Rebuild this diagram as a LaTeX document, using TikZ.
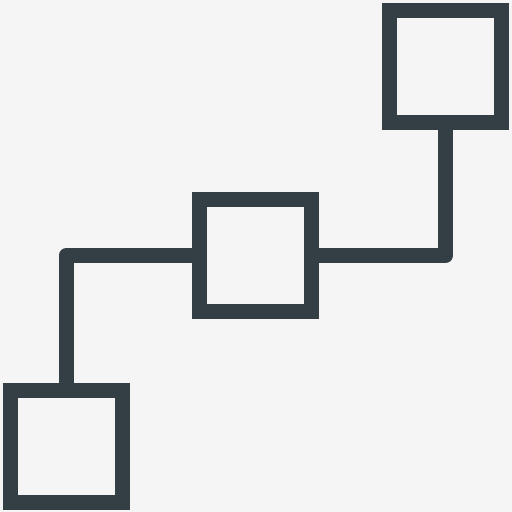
\documentclass[tikz,border=0pt]{standalone}
\definecolor{iconink}{HTML}{343E45}
\definecolor{iconbg}{HTML}{F5F5F5}
\tikzset{
  sqbox/.style={draw=iconink,line width=15pt,line join=miter,minimum size=112pt,inner sep=0pt},
  link/.style={draw=iconink,line width=15pt,line join=round}
}
\begin{document}
\begin{tikzpicture}[x=1pt,y=-1pt]
        \fill[iconbg](0,0)rectangle(512,512);
        \useasboundingbox(0,0)rectangle(512,512);
        \node[sqbox](top)at(445.5,66){};
        \node[sqbox](mid)at(255.5,255.5){};
        \node[sqbox](bot)at(66,446){};
        \draw[link](top.south)|-(mid.east);
        \draw[link](mid.west)-|(bot.north);
    \end{tikzpicture}
\end{document}
